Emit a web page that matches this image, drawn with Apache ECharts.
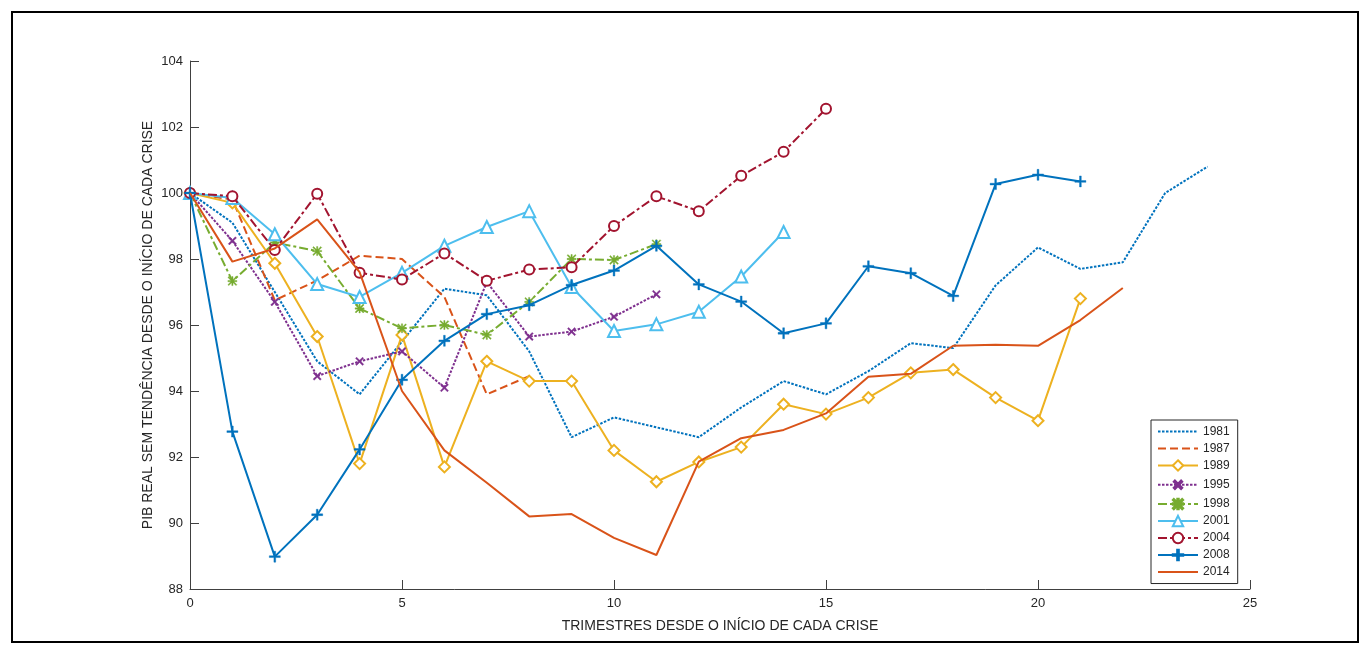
<!DOCTYPE html>
<html>
<head>
<meta charset="utf-8">
<title>PIB real sem tendência</title>
<script src="https://cdn.jsdelivr.net/npm/echarts@6/dist/echarts.min.js"></script>
<style>
  html, body { margin: 0; padding: 0; background: #fff; }
  #chart { width: 1370px; height: 654px; }
</style>
</head>
<body>
<div id="chart"></div>
<script>
// Quarters since the start of each crisis; each series is indexed 0, 1, 2, ...
const crisisYears = ['1981', '1987', '1989', '1995', '1998', '2001', '2004', '2008', '2014'];

const gdp1981 = [100, 99.1, 97.0, 94.9, 93.9, 95.5, 97.1, 96.9, 95.2, 92.6, 93.2, 92.9, 92.6, 93.5, 94.3, 93.9, 94.6, 95.45, 95.3, 97.2, 98.35, 97.7, 97.9, 100.0, 100.8];
const gdp1987 = [100, 99.8, 96.75, 97.35, 98.1, 98.0, 96.85, 93.9, 94.45];
const gdp1989 = [100, 99.7, 97.87, 95.65, 91.8, 95.7, 91.7, 94.9, 94.3, 94.3, 92.2, 91.25, 91.85, 92.3, 93.6, 93.3, 93.8, 94.55, 94.65, 93.8, 93.1, 96.8];
const gdp1995 = [100, 98.55, 96.7, 94.45, 94.9, 95.2, 94.1, 97.3, 95.65, 95.8, 96.25, 96.93];
const gdp1998 = [100, 97.33, 98.5, 98.24, 96.5, 95.9, 96.0, 95.7, 96.7, 98.0, 97.97, 98.45];
const gdp2001 = [100, 99.85, 98.75, 97.24, 96.85, 97.58, 98.4, 98.97, 99.45, 97.15, 95.82, 96.02, 96.4, 97.47, 98.82];
const gdp2004 = [100, 99.9, 98.27, 99.98, 97.58, 97.38, 98.17, 97.34, 97.68, 97.75, 99.0, 99.9, 99.45, 100.52, 101.25, 102.55];
const gdp2008 = [100, 92.77, 88.98, 90.25, 92.23, 94.34, 95.52, 96.33, 96.6, 97.21, 97.65, 98.4, 97.23, 96.71, 95.75, 96.05, 97.78, 97.57, 96.88, 100.27, 100.55, 100.35];
const gdp2014 = [100, 97.92, 98.32, 99.2, 97.6, 94.0, 92.2, 91.22, 90.2, 90.27, 89.55, 89.03, 91.86, 92.57, 92.82, 93.32, 94.43, 94.52, 95.37, 95.4, 95.37, 96.15, 97.12];

const seriesValues = [gdp1981, gdp1987, gdp1989, gdp1995, gdp1998, gdp2001, gdp2004, gdp2008, gdp2014];

const xTicks = [0, 5, 10, 15, 20, 25];
const yTicks = [88, 90, 92, 94, 96, 98, 100, 102, 104];

// Marker shapes
const PLUS = 'path://M4.2,0h1.6v4.2h4.2v1.6h-4.2v4.2h-1.6v-4.2h-4.2v-1.6h4.2z';
const STAR = 'path://M4.3,0h1.4v4.3h4.3v1.4h-4.3v4.3h-1.4v-4.3h-4.3v-1.4h4.3z' +
             'M1,0L5,4L9,0L10,1L6,5L10,9L9,10L5,6L1,10L0,9L4,5L0,1z';

const styles = [
  { color: '#0072BD', dash: [2.5, 1.5], symbol: 'none' },
  { color: '#D95319', dash: [8, 4], symbol: 'none' },
  { color: '#EDB120', dash: 'solid', symbol: 'emptyDiamond', size: 11 },
  { color: '#7E2F8E', dash: [2.5, 1.5], symbol: PLUS, size: 10, rotate: 45 },
  { color: '#77AC30', dash: [9, 3, 3, 3], symbol: STAR, size: 9 },
  { color: '#4DBEEE', dash: 'solid', symbol: 'emptyTriangle', size: 12 },
  { color: '#A2142F', dash: [9, 3, 3, 3], symbol: 'emptyCircle', size: 10 },
  { color: '#0072BD', dash: 'solid', symbol: PLUS, size: 11 },
  { color: '#D95319', dash: 'solid', symbol: 'none' }
];

const series = crisisYears.map((year, i) => {
  const st = styles[i];
  const isPath = st.symbol.indexOf('path://') === 0;
  return {
    name: year,
    type: 'line',
    data: seriesValues[i].map((v, q) => [q, v]),
    symbol: st.symbol,
    symbolSize: st.size || 0,
    symbolRotate: st.rotate || 0,
    showSymbol: st.symbol !== 'none',
    lineStyle: { color: st.color, width: 2, type: st.dash },
    itemStyle: {
      color: st.color,
      borderColor: st.color,
      borderWidth: isPath ? 0.4 : 2
    },
    emphasis: { disabled: true },
    z: 2 + i
  };
});

// Legend entries: series without markers show only their line sample
const legendData = crisisYears.map((year, i) =>
  styles[i].symbol === 'none' ? { name: year, itemStyle: { opacity: 0 } } : { name: year }
);

const textColor = '#262626';
const fontFamily = '"Liberation Sans", Arial, Helvetica, sans-serif';

const chart = echarts.init(document.getElementById('chart'), null, { renderer: 'canvas' });
chart.setOption({
  animation: false,
  backgroundColor: '#ffffff',
  textStyle: { fontFamily: fontFamily, color: textColor },
  graphic: [{
    type: 'rect',
    shape: { x: 12, y: 12, width: 1346, height: 630 },
    style: { fill: 'none', stroke: '#000', lineWidth: 2 },
    silent: true,
    z: 100
  }],
  grid: { left: 190, right: 120, top: 61, bottom: 65 },
  xAxis: {
    type: 'value',
    min: xTicks[0],
    max: xTicks[xTicks.length - 1],
    interval: xTicks[1] - xTicks[0],
    name: 'TRIMESTRES DESDE O INÍCIO DE CADA CRISE',
    nameLocation: 'middle',
    nameGap: 30,
    nameMoveOverlap: false,
    nameTextStyle: { fontSize: 14, color: textColor, fontFamily: fontFamily },
    axisLine: { show: true, lineStyle: { color: '#404040', width: 1 } },
    axisTick: { show: true, inside: true, length: 9, lineStyle: { color: '#404040' } },
    axisLabel: { fontSize: 13, color: textColor, margin: 8, fontFamily: fontFamily },
    splitLine: { show: false }
  },
  yAxis: {
    type: 'value',
    min: yTicks[0],
    max: yTicks[yTicks.length - 1],
    interval: yTicks[1] - yTicks[0],
    name: 'PIB REAL SEM TENDÊNCIA DESDE O INÍCIO DE CADA CRISE',
    nameLocation: 'middle',
    nameGap: 35,
    nameMoveOverlap: false,
    nameTextStyle: { fontSize: 14, color: textColor, fontFamily: fontFamily },
    axisLine: { show: true, lineStyle: { color: '#404040', width: 1 } },
    axisTick: { show: true, inside: true, length: 9, lineStyle: { color: '#404040' } },
    axisLabel: { fontSize: 13, color: textColor, margin: 7, fontFamily: fontFamily },
    splitLine: { show: false }
  },
  legend: {
    orient: 'vertical',
    left: 1151,
    top: 420,
    padding: [5, 8, 5, 6],
    itemWidth: 40,
    itemHeight: 13,
    itemGap: 4,
    backgroundColor: '#fff',
    borderColor: '#262626',
    borderWidth: 1,
    borderRadius: 0,
    textStyle: { fontSize: 12, color: textColor, fontFamily: fontFamily, lineHeight: 13 },
    data: legendData
  },
  series: series
});
</script>
</body>
</html>
